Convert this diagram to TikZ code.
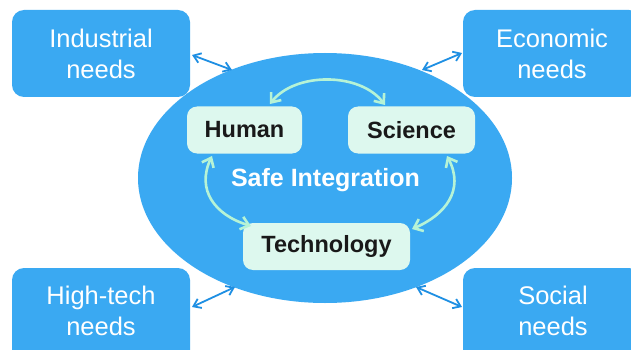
\documentclass[tikz,border=0pt]{standalone}
\usepackage{fontspec}
\setmainfont{Liberation Sans}
\usetikzlibrary{arrows.meta,shapes.geometric}
\definecolor{mblue}{HTML}{3AA9F2}
\definecolor{darrow}{HTML}{1E8FE3}
\definecolor{mint}{HTML}{DDF8EE}
\definecolor{garrow}{HTML}{B6F3D6}
\tikzset{
  needbox/.style={fill=mblue, rounded corners=12pt, minimum width=178pt, minimum height=87pt, inner sep=0pt, text=white, font=\fontsize{25.5}{31}\selectfont, align=center},
  needtext/.style={text=white, font=\fontsize{25.5}{31}\selectfont, align=center},
  innerbox/.style={fill=mint, rounded corners=10pt, minimum height=47pt, inner sep=0pt, text=black!90, font=\fontsize{23.5}{28}\selectfont\bfseries},
  outarrow/.style={draw=darrow, line width=1.8pt, {Straight Barb[length=7pt,width=10pt]}-{Straight Barb[length=7pt,width=10pt]}},
  inarrow/.style={draw=garrow, line width=2.6pt, {Straight Barb[length=8pt,width=13pt]}-{Straight Barb[length=8pt,width=13pt]}}
}
\begin{document}
\begin{tikzpicture}[x=1pt,y=-1pt]
\useasboundingbox (0,0) rectangle (631,350);
\clip (0,0) rectangle (631,350);
\fill[white] (0,0) rectangle (631,350);
% ellipse
\node[fill=mblue, ellipse, minimum width=374pt, minimum height=250pt, inner sep=0pt] (ell) at (325,178) {};
% outer boxes
\node[needbox] (ind) at (101,53.5) {Industrial\\needs};
\node[needbox] (eco) at (552,53.5) {Economic\\needs};
\node[needbox, minimum height=100pt] (hig) at (101,318) {};
\node[needbox, minimum height=100pt] (soc) at (552,318) {};
\node[needtext] (higt) at (101,311) {High-tech\\needs};
\node[needtext] (soct) at (553,311) {Social\\needs};
% inner boxes
\node[innerbox, minimum width=115pt] (hum) at (244.5,130) {Human};
\node[innerbox, minimum width=127pt] (sci) at (411.5,130) {Science};
\node[innerbox, minimum width=167pt] (tec) at (326.5,246.5) {Technology};
\node[text=white, font=\fontsize{25}{30}\selectfont\bfseries] (safe) at (325.5,180) {Safe Integration};
% coordinates for connectors
\coordinate (a1) at (192,55);
\coordinate (a2) at (232,70);
\coordinate (b1) at (462,53);
\coordinate (b2) at (422,70);
\coordinate (c1) at (192,307);
\coordinate (c2) at (235,287);
\coordinate (d1) at (462,307);
\coordinate (d2) at (416,287);
\draw[outarrow] (a1) -- (a2);
\draw[outarrow] (b1) -- (b2);
\draw[outarrow] (c1) -- (c2);
\draw[outarrow] (d1) -- (d2);
% inner arrows
\coordinate (h1) at (270,104);
\coordinate (s1) at (385,105);
\coordinate (h2) at (212,156);
\coordinate (t1) at (251,226);
\coordinate (s2) at (447,156);
\coordinate (t2) at (412,229);
\draw[inarrow] (h1) .. controls (295,72) and (360,72) .. (s1);
\draw[inarrow] (h2) .. controls (196,190) and (215,215) .. (t1);
\draw[inarrow] (s2) .. controls (465,190) and (445,215) .. (t2);
\end{tikzpicture}
\end{document}
